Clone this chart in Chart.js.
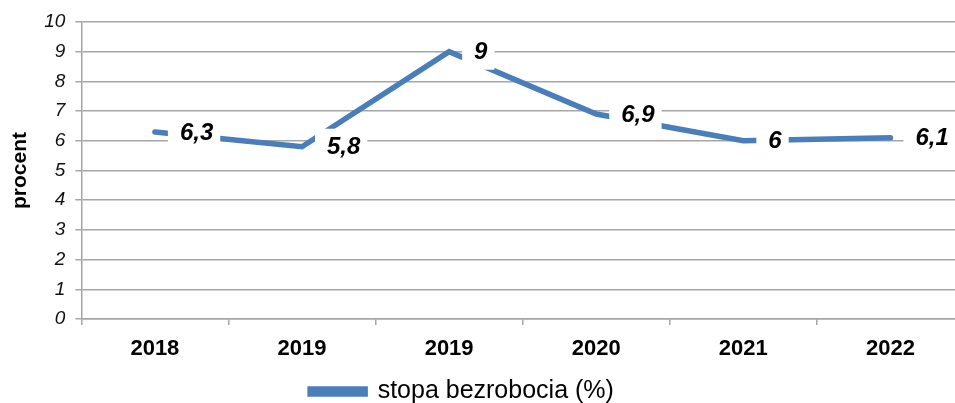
<!DOCTYPE html>
<html>
<head>
<meta charset="utf-8">
<script src="https://cdn.jsdelivr.net/npm/chart.js@4"></script>
<style>
  html, body { margin: 0; padding: 0; background: #fff; }
  #wrap { width: 955px; height: 403px; overflow: hidden; position: relative; }
  #chart { position: absolute; left: 0; top: 0; }
</style>
</head>
<body>
<div id="wrap"><canvas id="chart" width="970" height="414"></canvas></div>
<script>
/* ===== Data ===== */
const years = ["2018", "2019", "2019", "2020", "2021", "2022"];
const unemployment = [6.3, 5.8, 9, 6.9, 6, 6.1];
const seriesLabel = "stopa bezrobocia (%)";
const yTicks = [0, 1, 2, 3, 4, 5, 6, 7, 8, 9, 10];

const FONT = "'Liberation Sans', Arial, sans-serif";
const LINE_COLOR = "#4a7ebb";
const GRID_COLOR = "#a6a6a6";

/* ===== Plugins ===== */
// value labels to the right of each point, on a white box
const valueLabels = {
  id: "valueLabels",
  afterDatasetsDraw(chart) {
    const ctx = chart.ctx;
    const meta = chart.getDatasetMeta(0);
    ctx.save();
    ctx.font = `italic bold 24px ${FONT}`;
    ctx.textBaseline = "middle";
    ctx.textAlign = "left";
    meta.data.forEach((pt, i) => {
      const text = String(unemployment[i]).replace(".", ",");
      const w = ctx.measureText(text).width;
      const tx = pt.x + 25;
      ctx.fillStyle = "#fff";
      ctx.fillRect(tx - 12, pt.y - 18, w + 19, 36);
      ctx.fillStyle = "#000";
      ctx.fillText(text, tx, pt.y + 1);
    });
    ctx.restore();
  },
};

// nudge the legend left so it sits under the visible part of the chart
const legendShift = {
  id: "legendShift",
  afterLayout(chart) {
    if (chart.legend) {
      chart.legend.left -= 22;
      chart.legend.right -= 22;
    }
  },
};

/* ===== Chart ===== */
const ctx = document.getElementById("chart").getContext("2d");

new Chart(ctx, {
  type: "line",
  data: {
    labels: years,
    datasets: [
      {
        label: seriesLabel,
        data: unemployment,
        borderColor: LINE_COLOR,
        backgroundColor: LINE_COLOR,
        borderWidth: 5.5,
        borderJoinStyle: "miter",
        borderCapStyle: "round",
        tension: 0,
        pointRadius: 0,
        fill: false,
      },
    ],
  },
  options: {
    responsive: false,
    animation: false,
    layout: { padding: { top: 22, left: 4, right: 6, bottom: 0 } },
    plugins: {
      tooltip: { enabled: false },
      legend: {
        position: "bottom",
        labels: {
          boxWidth: 55,
          boxHeight: 5,
          padding: 6,
          color: "#000",
          font: { family: FONT, size: 25 },
        },
      },
    },
    scales: {
      x: {
        offset: true,
        grid: {
          display: true,
          offset: true,
          drawOnChartArea: false,
          drawTicks: true,
          tickLength: 6,
          color: GRID_COLOR,
          lineWidth: 1.5,
        },
        border: { display: true, color: GRID_COLOR, width: 1.5 },
        ticks: {
          padding: 13,
          color: "#000",
          font: { family: FONT, size: 22, weight: "bold", lineHeight: 1 },
          maxRotation: 0,
        },
      },
      y: {
        min: yTicks[0],
        max: yTicks[yTicks.length - 1],
        afterBuildTicks: (scale) => {
          scale.ticks = yTicks.map((v) => ({ value: v }));
        },
        grid: {
          color: GRID_COLOR,
          lineWidth: 1.5,
          drawTicks: true,
          tickLength: 6,
        },
        border: { display: true, color: GRID_COLOR, width: 1.5 },
        ticks: {
          padding: 10,
          color: "#111",
          font: { family: FONT, size: 19, style: "italic" },
        },
        title: {
          display: true,
          text: "procent",
          color: "#000",
          font: { family: FONT, size: 21, weight: "bold" },
          padding: { top: 4, bottom: 1 },
        },
      },
    },
  },
  plugins: [valueLabels, legendShift],
});
</script>
</body>
</html>
